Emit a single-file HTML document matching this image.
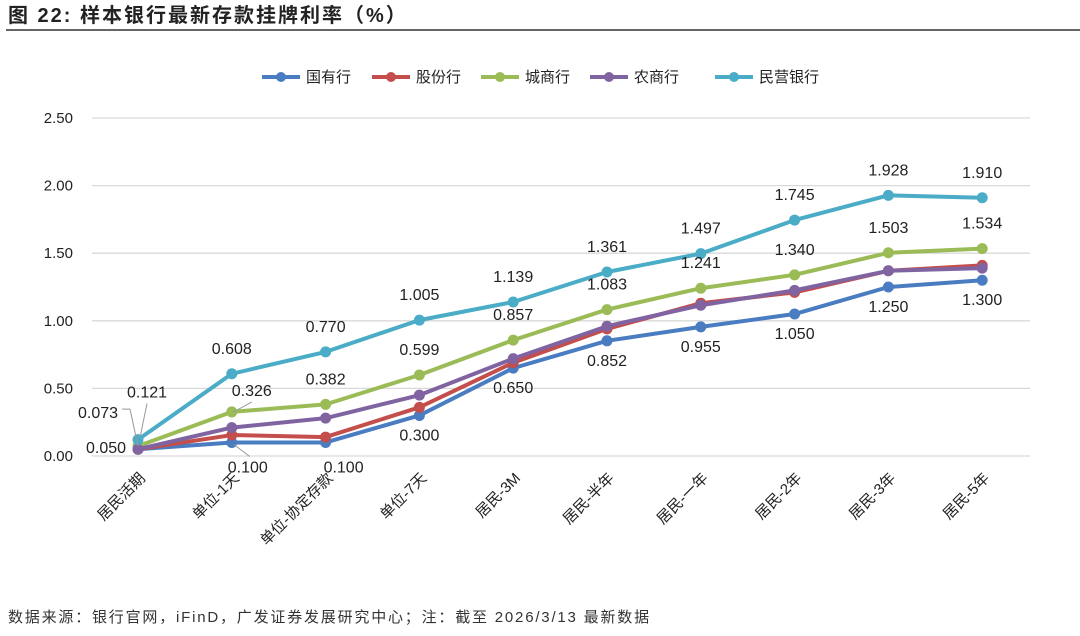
<!DOCTYPE html>
<html><head><meta charset="utf-8"><style>
body{margin:0;background:#fff;width:1080px;height:631px;overflow:hidden;font-family:"Liberation Sans","Noto Sans CJK SC",sans-serif}
</style></head><body>
<svg id="c" width="1080" height="631" xmlns="http://www.w3.org/2000/svg" font-family="Liberation Sans, Noto Sans CJK SC, sans-serif">
<text x="8" y="22" font-size="20" font-weight="bold" fill="#222" letter-spacing="2">图  22:  样本银行最新存款挂牌利率（%）</text>
<line x1="6" y1="30" x2="1080" y2="30" stroke="#333" stroke-width="1.5"/>
<text x="8" y="622" font-size="15" fill="#333" letter-spacing="1.8">数据来源：银行官网，iFinD，广发证券发展研究中心；注：截至 2026/3/13 最新数据</text>
<g id="grid"></g><g id="lines"></g><g id="legend"></g><g id="labels"></g>
</svg>
<script>
const categories=["居民活期","单位-1天","单位-协定存款","单位-7天","居民-3M","居民-半年","居民-一年","居民-2年","居民-3年","居民-5年"];
const yTicks=[0,0.5,1,1.5,2,2.5];
const yTickLabels=["0.00","0.50","1.00","1.50","2.00","2.50"];
const seriesNames=["国有行","股份行","城商行","农商行","民营银行"];
const colors=["#4a7cc1","#c44e4b","#9bbb57","#8064a2","#4aacc6"];
const guoyou=[0.05,0.10,0.10,0.30,0.65,0.852,0.955,1.05,1.25,1.30];
const gufen=[0.05,0.155,0.14,0.36,0.69,0.94,1.13,1.21,1.37,1.41];
const chengshang=[0.073,0.326,0.382,0.599,0.857,1.083,1.241,1.34,1.503,1.534];
const nongshang=[0.05,0.21,0.28,0.45,0.72,0.96,1.115,1.225,1.37,1.39];
const minying=[0.121,0.608,0.77,1.005,1.139,1.361,1.497,1.745,1.928,1.91];
const series=[guoyou,gufen,chengshang,nongshang,minying];
const NS="http://www.w3.org/2000/svg";
const x=i=>138+i*93.8, y=v=>456-v*135.2;
function mk(tag,at,parent,txt){const e=document.createElementNS(NS,tag);for(const k in at)e.setAttribute(k,at[k]);if(txt!==undefined)e.textContent=txt;document.getElementById(parent).appendChild(e);return e;}
yTicks.forEach((t,i)=>{
 const g=mk('line',{x1:92,x2:1030,y1:y(t),y2:y(t),stroke:'#d9d9d9','stroke-width':1.3},'grid');
 
 
 const l=mk('text',{x:73,y:y(t)+5,'font-size':15,'text-anchor':'end',fill:'#222'},'grid',yTickLabels[i]);
 
 
});
categories.forEach((c,i)=>{
 const t=mk('text',{transform:`translate(${x(i)+8},${479}) rotate(-45)`,'font-size':15,'text-anchor':'end',fill:'#222'},'grid',c);
 
 
});
series.forEach((s,k)=>{
 const p=mk('polyline',{points:s.map((v,i)=>x(i)+','+y(v)).join(' '),fill:'none',stroke:colors[k],'stroke-width':4,'stroke-linejoin':'round'},'lines');
 
 
 s.forEach((v,i)=>{const c=mk('circle',{cx:x(i),cy:y(v),r:5.5,fill:colors[k]},'lines');
  
  });
});
const lx=[262,372,481,590,715];
seriesNames.forEach((n,k)=>{
 mk('line',{x1:lx[k],x2:lx[k]+38,y1:77,y2:77,stroke:colors[k],'stroke-width':4},'legend');
 mk('circle',{cx:lx[k]+19,cy:77,r:5,fill:colors[k]},'legend');
 const t=mk('text',{x:lx[k]+44,y:82,'font-size':15,fill:'#222'},'legend',n);
 
 
});
function lab(v,xx,yy){const t=mk('text',{x:xx,y:yy,'font-size':16,'text-anchor':'middle',fill:'#222'},'labels',v.toFixed(3));
 
 }
minying.forEach((v,i)=>{ if(i>0) lab(v,x(i),y(v)-20); });
chengshang.forEach((v,i)=>{ if(i>0) lab(v,x(i)+(i==1?20:0),y(v)-(i==1?16:20)); });
guoyou.forEach((v,i)=>{ if(i>0) lab(v,x(i)+(i==1?16:i==2?18:0),y(v)+(i==1||i==2?30:25)); });
lab(minying[0],x(0)+9,y(minying[0])-42);
lab(chengshang[0],x(0)-40,y(chengshang[0])-28);
lab(guoyou[0],x(0)-32,y(guoyou[0])+4);
mk('polyline',{points:`${x(0)+2},${y(0.121)-2} ${x(0)+9},${y(0.121)-36}`,fill:'none',stroke:'#999'},'labels');
mk('polyline',{points:`${x(0)},${y(0.073)} ${x(0)-8},${y(0.073)-37} ${x(0)-16},${y(0.073)-37}`,fill:'none',stroke:'#999'},'labels');
mk('polyline',{points:`${x(1)+2},${y(0.326)} ${x(1)+20},${y(0.326)-10}`,fill:'none',stroke:'#999'},'labels');
mk('polyline',{points:`${x(1)+2},${y(0.10)+2} ${x(1)+18},${y(0.10)+14}`,fill:'none',stroke:'#999'},'labels');
</script>
</body></html>
